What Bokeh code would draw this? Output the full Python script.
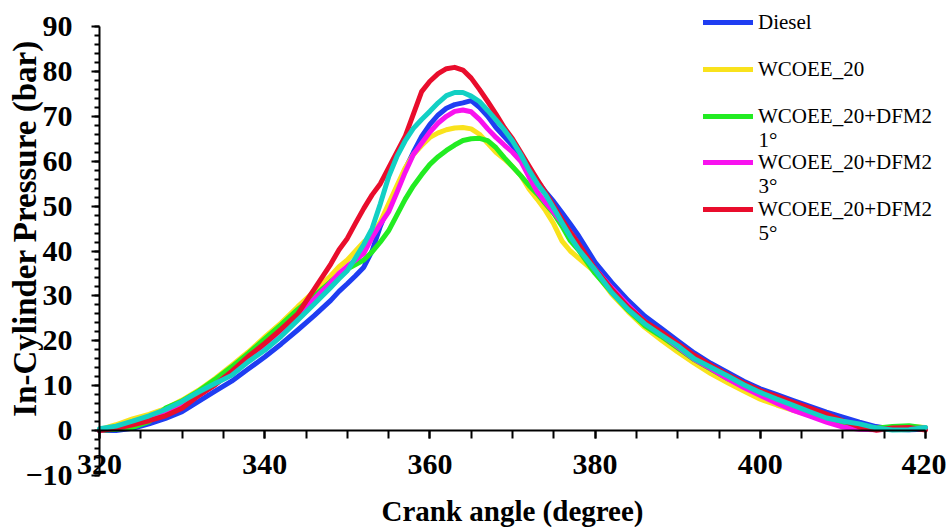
from bokeh.plotting import figure
from bokeh.models import FixedTicker, Legend, LegendItem, Range1d, ColumnDataSource, LinearAxis, Label
from bokeh.embed import file_html
from bokeh.resources import INLINE

crank = [320, 322, 324, 326, 328, 330, 332, 334, 336, 338, 340, 342, 344, 346, 348,
         349, 350, 351, 352, 353, 354, 355, 356, 357, 358, 359, 360, 361, 362, 363,
         364, 365, 366, 367, 368, 369, 370, 371, 372, 373, 374, 375, 376, 377, 378,
         380, 382, 384, 386, 388, 390, 392, 394, 396, 398, 400, 402, 404, 406, 408,
         410, 412, 414, 416, 418, 420]

diesel = [0.0, 0.0, 0.5, 1.5, 2.7, 4.2, 6.5, 8.8, 11.0, 13.7, 16.4, 19.3, 22.4, 25.6, 29.0,
          31.0, 32.7, 34.5, 36.4, 40.0, 45.5, 50.0, 54.0, 58.2, 62.0, 65.5, 68.2, 70.3, 71.8, 72.6,
          73.0, 73.5, 72.0, 70.0, 67.5, 65.5, 63.5, 61.0, 58.3, 55.6, 53.2, 51.0, 48.5, 46.0, 43.4,
          37.5, 33.0, 29.0, 25.5, 22.8, 20.0, 17.3, 15.0, 13.0, 11.0, 9.3, 8.0, 6.7, 5.4, 4.1,
          3.0, 1.9, 0.9, 0.3, 0.2, 0.3]

wcoee20 = [0.2, 1.3, 2.6, 3.6, 4.9, 6.8, 9.0, 11.6, 14.5, 17.5, 20.8, 24.0, 27.6, 31.0, 34.5,
           36.5, 38.0, 40.0, 42.0, 43.5, 46.5, 50.5, 54.5, 58.5, 61.5, 63.5, 65.3, 66.3, 67.0, 67.4,
           67.5, 67.2, 66.0, 64.0, 62.0, 60.5, 58.8, 56.8, 53.8, 51.5, 49.0, 46.0, 42.2, 40.0, 38.4,
           35.3, 30.4, 26.5, 23.0, 20.2, 17.5, 15.0, 12.7, 10.7, 8.8, 7.0, 5.7, 4.5, 3.4, 2.4,
           1.6, 0.9, 0.5, 0.5, 0.9, 0.7]

dfm2_1 = [0.0, 0.3, 0.7, 2.0, 5.0, 6.6, 8.8, 11.4, 14.2, 17.2, 20.4, 23.6, 27.0, 30.0, 33.2,
          34.7, 36.0, 37.0, 38.0, 39.8, 42.0, 44.5, 48.0, 51.5, 54.5, 57.0, 59.3, 61.0, 62.4, 63.6,
          64.6, 65.0, 65.1, 64.6, 63.0, 60.8, 58.8, 56.8, 54.6, 52.7, 50.5, 48.3, 45.5, 42.3, 40.2,
          35.0, 30.8, 26.8, 23.4, 21.0, 18.4, 15.8, 13.7, 11.6, 9.8, 8.2, 6.8, 5.4, 4.1, 2.8,
          1.8, 1.1, 0.5, 0.9, 1.1, 0.6]

dfm2_3 = [0.0, 0.6, 1.5, 2.5, 3.6, 5.4, 7.8, 10.3, 13.0, 16.0, 19.2, 22.4, 25.8, 29.3, 33.0,
          35.0, 36.6, 38.0, 39.5, 43.0, 46.0, 48.7, 53.0, 57.5, 61.5, 64.0, 66.5, 68.5, 70.0, 71.1,
          71.4, 71.0, 69.3, 67.2, 65.3, 63.6, 62.0, 60.0, 56.5, 53.2, 50.8, 48.6, 46.3, 43.5, 41.0,
          36.0, 31.8, 27.9, 24.3, 21.4, 18.7, 15.9, 13.8, 11.6, 9.6, 7.8, 6.1, 4.5, 3.2, 1.9,
          0.8, 0.3, 0.2, 0.3, 0.4, 0.6]

dfm2_5 = [0.0, 0.5, 1.3, 2.2, 3.3, 5.0, 7.8, 10.2, 13.2, 16.5, 19.4, 22.6, 26.0, 31.5, 37.1,
          40.3, 42.8, 46.2, 49.5, 52.5, 55.0, 58.5, 62.0, 65.5, 70.5, 75.5, 77.8, 79.5, 80.6, 80.9,
          80.3, 78.5, 76.0, 73.3, 70.5, 67.5, 65.0, 62.0, 58.9, 55.9, 53.0, 50.0, 47.0, 44.2, 41.6,
          36.0, 31.5, 27.5, 24.3, 22.0, 19.4, 16.8, 14.6, 12.5, 10.6, 8.9, 7.6, 6.3, 5.0, 3.7,
          2.2, 0.8, 0.1, 0.6, 0.7, 0.1]

unlabelled = [0.4, 1.0, 2.1, 3.3, 4.7, 6.5, 8.6, 10.5, 12.3, 15.3, 17.9, 21.0, 24.6, 28.2, 31.9,
              33.8, 35.6, 38.5, 41.5, 45.0, 50.5, 56.5, 61.0, 64.5, 67.3, 69.3, 71.1, 73.0, 74.6, 75.3,
              75.3, 74.5, 73.3, 71.3, 69.2, 67.0, 64.5, 61.5, 58.0, 55.0, 52.6, 49.5, 46.3, 43.2, 40.4,
              35.8, 30.8, 27.0, 23.8, 21.3, 18.9, 16.0, 14.1, 12.2, 10.2, 8.5, 7.0, 5.6, 4.2, 2.8,
              2.1, 1.5, 0.6, 0.15, 0.2, 0.7]

labels = ["Diesel", "WCOEE_20", "WCOEE_20+DFM2", "WCOEE_20+DFM2", "WCOEE_20+DFM2"]
label_second_lines = ["", "", "1\u00b0", "3\u00b0", "5\u00b0"]
colors = ["#1f3df2", "#f9e21c", "#22ec22", "#f812ef", "#e90d2c"]
cyan = "#12d0c4"

x_ticks = [320, 340, 360, 380, 400, 420]
y_ticks = [-10, 0, 10, 20, 30, 40, 50, 60, 70, 80, 90]

src = ColumnDataSource(dict(x=crank, d=diesel, w=wcoee20, g1=dfm2_1, g3=dfm2_3, g5=dfm2_5, c=unlabelled))

FONT = "Liberation Serif"

# figure / data-area geometry (pixels inside the figure, which sits at the page's top-left)
W, H = 946, 527
X0_PX, X1_PX = 99, 925        # where 320 and 420 sit
Y_TOP_PX, Y_BOT_PX = 26, 475  # where 90 and -10 sit
xs = (X1_PX - X0_PX) / 100.0
ys = (Y_BOT_PX - Y_TOP_PX) / 100.0
x_range = Range1d(320 - X0_PX / xs, 420 + (W - X1_PX) / xs)
y_range = Range1d(-10 - (H - Y_BOT_PX) / ys, 90 + Y_TOP_PX / ys)

p = figure(width=W, height=H, output_backend="svg", toolbar_location=None,
           x_range=x_range, y_range=y_range,
           min_border_left=0, min_border_right=0, min_border_top=0, min_border_bottom=0)
p.outline_line_color = None
p.xgrid.visible = False
p.ygrid.visible = False

renderers = []
for key, col in zip(["d", "w", "g1", "g3", "g5"], colors):
    r = p.line("x", key, source=src, line_color=col, line_width=5, line_join="round", line_cap="round")
    renderers.append(r)
p.line("x", "c", source=src, line_color=cyan, line_width=5, line_join="round", line_cap="round")

# axes, drawn at x=320 and y=0
p.xaxis.fixed_location = 0
p.yaxis.fixed_location = 320
p.xaxis.bounds = (320, 420)
p.yaxis.bounds = (-10, 90)
p.xaxis.ticker = FixedTicker(ticks=x_ticks, minor_ticks=list(range(320, 421, 5)))
p.yaxis.ticker = FixedTicker(ticks=y_ticks, minor_ticks=list(range(-10, 91, 2)))
for ax in (p.xaxis[0], p.yaxis[0]):
    ax.axis_line_color = "black"
    ax.axis_line_width = 2
    ax.major_tick_line_color = "black"
    ax.minor_tick_line_color = "black"
    ax.major_tick_line_width = 2
    ax.minor_tick_line_width = 2
    ax.major_tick_in = 0
    ax.minor_tick_in = 0
    ax.major_label_text_font = FONT
    ax.major_label_text_font_style = "bold"
    ax.major_label_text_font_size = "30px"
    ax.major_label_text_color = "black"
    ax.axis_label_text_font = FONT
    ax.axis_label_text_font_style = "bold"
    ax.axis_label_text_color = "black"

p.xaxis.major_tick_out = 8
p.xaxis.minor_tick_out = 8
p.xaxis.major_label_standoff = 16
p.xaxis.axis_label = "Crank angle (degree)"
p.xaxis.axis_label_text_font_size = "29px"
p.xaxis.axis_label_standoff = 18

p.yaxis.major_tick_out = 8
p.yaxis.minor_tick_out = 5
p.yaxis.major_label_standoff = 19

# y-axis title, centred on the 0..90 part of the axis
ytitle = LinearAxis(fixed_location=320, bounds=(0, 90), ticker=FixedTicker(ticks=[]),
                    axis_line_alpha=0, major_tick_out=0, major_tick_in=0,
                    minor_tick_out=0, minor_tick_in=0, major_label_standoff=0,
                    axis_label="In-Cylinder Pressure (bar)", axis_label_standoff=57,
                    axis_label_text_font=FONT, axis_label_text_font_style="bold",
                    axis_label_text_font_size="33px", axis_label_text_color="black")
p.add_layout(ytitle, "left")

# legend: one small legend per entry, glyph centres at these page rows;
# the wrapped second line of an entry sits just below its first line
LEG_X, GLYPH_W, STANDOFF = 703, 50, 5
LEG_FONT = "21px"
leg_rows = [22, 69, 116, 162, 209]
for lab, second, r, row in zip(labels, label_second_lines, renderers, leg_rows):
    lg = Legend(items=[LegendItem(label=lab, renderers=[r])],
                location=(LEG_X, H - (row + 13)), orientation="vertical",
                label_text_font=FONT, label_text_font_size=LEG_FONT,
                label_text_color="black",
                glyph_width=GLYPH_W, glyph_height=22, label_height=26, label_standoff=STANDOFF,
                spacing=0, padding=0, margin=0,
                border_line_color=None, background_fill_alpha=0)
    p.add_layout(lg)
    if second:
        p.add_layout(Label(x=LEG_X + GLYPH_W + STANDOFF, y=H - (row + 23.5),
                           x_units="screen", y_units="screen", text=second,
                           text_font=FONT, text_font_size=LEG_FONT, text_color="black",
                           text_baseline="middle", text_align="left"))

open("out.html", "w").write(file_html(p, INLINE))
